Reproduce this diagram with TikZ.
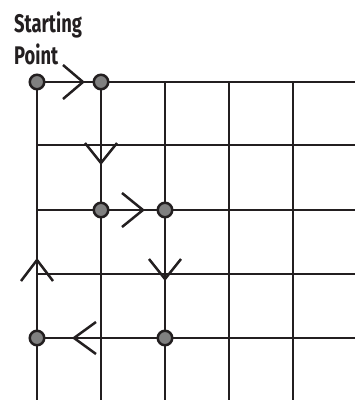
\documentclass[tikz,border=0pt]{standalone}
\usepackage{fontspec}
\newfontfamily\lblfont[FakeStretch=0.72]{Fira Sans}
\definecolor{ink}{HTML}{231F20}
\definecolor{dot}{HTML}{808080}
\begin{document}
\begin{tikzpicture}[x=1pt,y=-1pt,
 gridline/.style={draw=ink, line width=2.5pt},
 dotnode/.style={circle, draw=ink, fill=dot, line width=2.5pt, minimum size=14.5pt, inner sep=0pt},
 chev/.style={draw=ink, line width=2.5pt, line join=miter},
 lbl/.style={font=\lblfont\bfseries\fontsize{25.5}{25.5}\selectfont, text=ink, anchor=base west, inner sep=0pt}]
\useasboundingbox (0,0) rectangle (355,400);
\foreach \y in {82,145,210,274,338} \draw[gridline] (37,\y) -- (355,\y);
\foreach \x in {37,101,165,229,293} \draw[gridline] (\x,82) -- (\x,400);
\node[dotnode] (s) at (37,82) {};
\node[dotnode] (a) at (101,82) {};
\node[dotnode] (b) at (101,210) {};
\node[dotnode] (c) at (165,210) {};
\node[dotnode] (d) at (165,338) {};
\node[dotnode] (e) at (37,338) {};
\draw[chev] (63,65) -- (83,82) -- (63,99);
\draw[chev] (85,143) -- (101,163) -- (117,143);
\draw[chev] (122,193) -- (143,210) -- (122,227);
\draw[chev] (149,259) -- (165,279) -- (181,259);
\draw[chev] (96,322) -- (74,338) -- (96,354);
\draw[chev] (21,281) -- (37,260) -- (53,281);
\node[lbl] (t1) at (14,32) {Starting};
\node[lbl] (t2) at (14,64) {Point};
\end{tikzpicture}
\end{document}
